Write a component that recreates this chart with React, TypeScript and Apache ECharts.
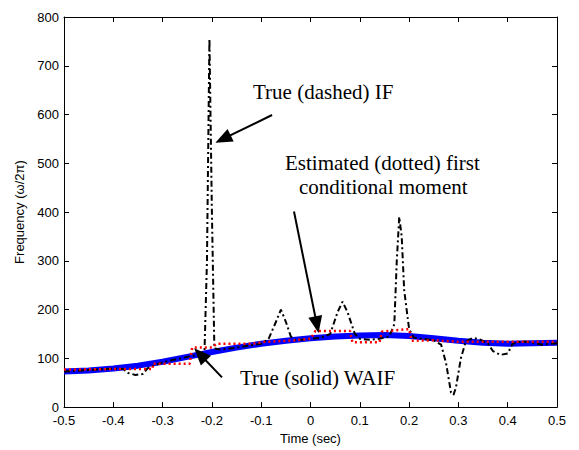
import React, { useEffect, useRef } from "react";
import * as echarts from "echarts";

// True weighted-average instantaneous frequency (solid blue)
const waifTime = [-0.5, -0.45, -0.4, -0.35, -0.3, -0.25, -0.2, -0.15, -0.1, -0.05, 0, 0.05, 0.1, 0.15, 0.2, 0.25, 0.3, 0.35, 0.4, 0.45, 0.5];
const waifFreq = [73, 75, 79, 85, 93, 103, 113, 122, 130, 136, 141, 145, 147, 148, 146, 141, 136, 132, 130, 131, 132];

// True instantaneous frequency (dash-dot black)
const ifTime = [
  -0.5, -0.45, -0.4, -0.38, -0.37, -0.355, -0.34, -0.33, -0.3, -0.25, -0.225, -0.215, -0.21, -0.205, -0.2, -0.195,
  -0.18, -0.15, -0.1, -0.085, -0.07, -0.06, -0.05, -0.04, -0.03, 0, 0.02, 0.04, 0.055, 0.065, 0.075, 0.09, 0.1, 0.12,
  0.14, 0.16, 0.17, 0.175, 0.18, 0.185, 0.19, 0.2, 0.21, 0.23, 0.25, 0.265, 0.275, 0.285, 0.29, 0.295, 0.305, 0.315,
  0.33, 0.345, 0.36, 0.37, 0.385, 0.4, 0.41, 0.43, 0.45, 0.47, 0.5,
];
const ifFreq = [
  73, 76, 79, 78, 70, 66, 68, 80, 92, 103, 108, 115, 300, 755, 400, 120,
  118, 122, 130, 140, 175, 200, 175, 145, 137, 140, 142, 150, 195, 216, 195, 150, 140, 138,
  140, 145, 170, 300, 390, 350, 240, 160, 142, 140, 137, 128, 90, 30, 25, 40, 100, 135,
  142, 138, 130, 115, 107, 110, 130, 135, 132, 128, 131,
];

// Estimated first conditional moment (dotted red)
const estTime = [-0.5, -0.4, -0.32, -0.32, -0.245, -0.24, -0.2, -0.19, -0.12, -0.09, -0.03, 0.0, 0.01, 0.08, 0.085, 0.14, 0.145, 0.2, 0.205, 0.25, 0.3, 0.4, 0.5];
const estFreq = [77, 78, 78, 89, 89, 122, 122, 130, 130, 134, 137, 140, 156, 156, 133, 133, 155, 160, 136, 137, 134, 134, 134];

// Annotation arrows (data coordinates: [start], [tip])
const arrowStarts = [[-0.078, 599], [-0.0335, 401], [-0.1795, 61]];
const arrowTips = [[-0.1775, 550], [0.013, 169], [-0.224, 108]];

const xTicks = { min: -0.5, max: 0.5, interval: 0.1 };
const yTicks = { min: 0, max: 800, interval: 100 };

const zip = (xs: number[], ys: number[]) => xs.map((x, i) => [x, ys[i]]);

export default function App() {
  const ref = useRef<HTMLDivElement>(null);
  useEffect(() => {
    if (!ref.current) return;
    const chart = echarts.init(ref.current, undefined, { renderer: "svg" });
    const serif = "'Liberation Serif', 'Times New Roman', serif";
    const sans = "'Liberation Sans', Arial, sans-serif";
    const fmtX = (v: number) => String(Math.round(v * 10) / 10);
    chart.setOption({
      animation: false,
      backgroundColor: "#ffffff",
      grid: { left: 64, right: 22, top: 17, bottom: 40, containLabel: false },
      xAxis: [
        {
          type: "value",
          ...xTicks,
          position: "bottom",
          name: "Time (sec)",
          nameLocation: "middle",
          nameGap: 20,
          nameTextStyle: { fontFamily: sans, fontSize: 13, color: "#000" },
          axisLine: { lineStyle: { color: "#000", width: 1 } },
          axisTick: { inside: true, length: 5, lineStyle: { color: "#000" } },
          axisLabel: { formatter: fmtX, fontFamily: sans, fontSize: 13, color: "#000", margin: 7 },
          splitLine: { show: false },
        },
        {
          type: "value",
          ...xTicks,
          position: "top",
          axisLine: { onZero: false, lineStyle: { color: "#000", width: 1 } },
          axisTick: { inside: true, length: 5, lineStyle: { color: "#000" } },
          axisLabel: { show: false },
          splitLine: { show: false },
        },
      ],
      yAxis: [
        {
          type: "value",
          ...yTicks,
          position: "left",
          name: "Frequency (ω/2π)",
          nameLocation: "middle",
          nameGap: 38,
          nameTextStyle: { fontFamily: sans, fontSize: 13, color: "#000" },
          axisLine: { show: true, onZero: false, lineStyle: { color: "#000", width: 1 } },
          axisTick: { show: true, inside: true, length: 5, lineStyle: { color: "#000" } },
          axisLabel: { fontFamily: sans, fontSize: 13, color: "#000", margin: 5, padding: [0, 0, 7, 0] },
          splitLine: { show: false },
        },
        {
          type: "value",
          ...yTicks,
          position: "right",
          axisLine: { show: true, onZero: false, lineStyle: { color: "#000", width: 1 } },
          axisTick: { show: true, inside: true, length: 5, lineStyle: { color: "#000" } },
          axisLabel: { show: false },
          splitLine: { show: false },
        },
      ],
      series: [
        {
          name: "True WAIF",
          type: "line",
          data: zip(waifTime, waifFreq),
          showSymbol: false,
          smooth: false,
          z: 2,
          lineStyle: { color: "#0000ff", width: 6 },
        },
        {
          name: "True IF",
          type: "line",
          data: zip(ifTime, ifFreq),
          showSymbol: false,
          z: 3,
          lineStyle: { color: "#000000", width: 2, type: [6, 3, 2, 3] },
        },
        {
          name: "Estimated",
          type: "line",
          data: zip(estTime, estFreq),
          showSymbol: false,
          z: 4,
          lineStyle: { color: "#ff0000", width: 2.5, type: [2, 3] },
          markLine: {
            silent: true,
            symbol: ["none", "triangle"],
            symbolSize: [14, 17],
            label: { show: false },
            lineStyle: { color: "#000", width: 2, type: "solid" },
            data: arrowStarts.map((s, i) => [
              { coord: s },
              { coord: arrowTips[i] },
            ]),
          },
        },
      ],
      graphic: [
        { type: "text", left: 253, top: 81, style: { text: "True (dashed) IF", font: `21px ${serif}`, fill: "#000" } },
        { type: "text", left: 285, top: 152, style: { text: "Estimated (dotted) first", font: `21px ${serif}`, fill: "#000" } },
        { type: "text", left: 299, top: 176, style: { text: "conditional moment", font: `21px ${serif}`, fill: "#000" } },
        { type: "text", left: 240, top: 367, style: { text: "True (solid) WAIF", font: `21px ${serif}`, fill: "#000" } },
      ],
    });
    return () => chart.dispose();
  }, []);
  return (
    <div
      ref={ref}
      style={{ position: "fixed", left: 0, top: 0, width: 579, height: 450, background: "#fff" }}
    />
  );
}
